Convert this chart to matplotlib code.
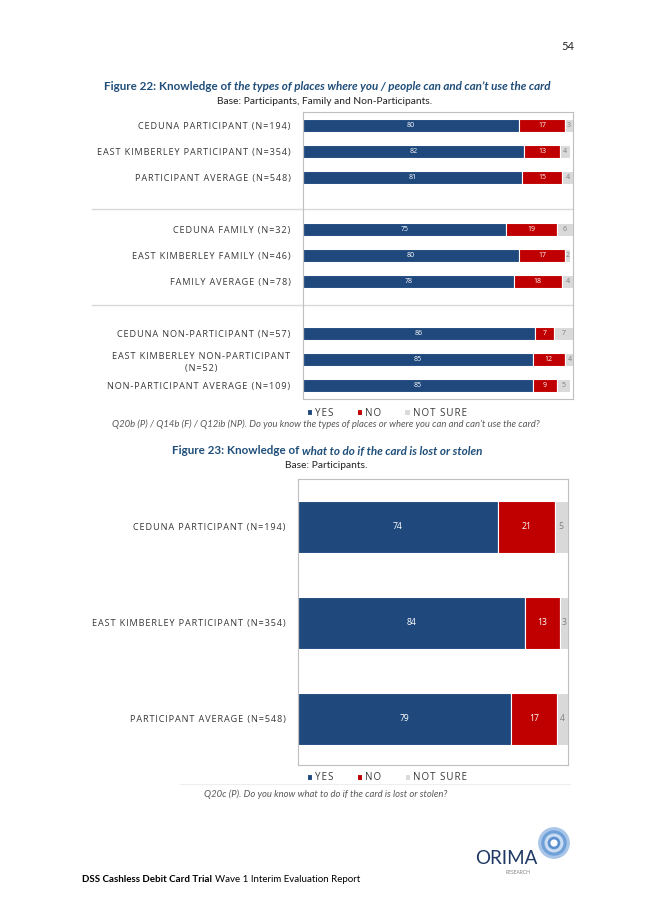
import matplotlib
matplotlib.use("Agg")
import matplotlib.pyplot as plt
from matplotlib.patches import Circle
import matplotlib.transforms as mtransforms

# ---- data: figure 22 ----
labels_22 = ["CEDUNA PARTICIPANT (N=194)",
             "EAST KIMBERLEY PARTICIPANT (N=354)",
             "PARTICIPANT AVERAGE (N=548)",
             "CEDUNA FAMILY (N=32)",
             "EAST KIMBERLEY FAMILY (N=46)",
             "FAMILY AVERAGE (N=78)",
             "CEDUNA NON-PARTICIPANT (N=57)",
             "EAST KIMBERLEY NON-PARTICIPANT\n(N=52)",
             "NON-PARTICIPANT AVERAGE (N=109)"]
yes_22 = [80, 82, 81, 75, 80, 78, 86, 85, 85]
no_22 = [17, 13, 15, 19, 17, 18, 7, 12, 9]
unsure_22 = [3, 4, 4, 6, 2, 4, 7, 4, 5]
rows_22 = [0, 1, 2, 4, 5, 6, 8, 9, 10]

# ---- data: figure 23 ----
labels_23 = ["CEDUNA PARTICIPANT (N=194)",
             "EAST KIMBERLEY PARTICIPANT (N=354)",
             "PARTICIPANT AVERAGE (N=548)"]
yes_23 = [74, 84, 79]
no_23 = [21, 13, 17]
unsure_23 = [5, 3, 4]
rows_23 = [0, 1, 2]

series_names = ["YES", "NO", "NOT SURE"]

# colours
BLUE = "#1f497d"
RED = "#c00000"
GREY = "#d9d9d9"
TITLE_BLUE = "#1f4e79"
LABEL_COL = "#383838"
LABEL_FONT = ["Open Sans", "DejaVu Sans"]

W, H = 653, 923
fig = plt.figure(figsize=(W / 100, H / 100), dpi=100)
fig.patch.set_facecolor("white")


def fx(px):
    return px / W


def fy(py):
    return 1 - py / H


def spaced(s):
    # fake letter spacing with hair spaces
    return "\n".join("\u200a".join(line) for line in s.split("\n"))


def stacked(ax, rows, labels, yes, no, unsure, height, numsize):
    b1 = ax.barh(rows, yes, height=height, color=BLUE, edgecolor="white", linewidth=0.8)
    b2 = ax.barh(rows, no, left=yes, height=height, color=RED, edgecolor="white", linewidth=0.8)
    left3 = [a + b for a, b in zip(yes, no)]
    b3 = ax.barh(rows, unsure, left=left3, height=height, color=GREY, edgecolor="white", linewidth=0.8)
    for y, a, b, c in zip(rows, yes, no, unsure):
        ax.text(a / 2, y, str(a), ha="center", va="center", color="white",
                fontsize=numsize, family="Open Sans")
        ax.text(a + b / 2, y, str(b), ha="center", va="center", color="white",
                fontsize=numsize, family="Open Sans")
        ax.text(a + b + c / 2, y, str(c), ha="center", va="center", color="#808080",
                fontsize=numsize, family="Open Sans")
    ax.set_xlim(0, 100)
    ax.set_yticks(rows)
    ax.set_yticklabels([spaced(l) for l in labels], fontsize=6.6, color=LABEL_COL,
                       family=LABEL_FONT, multialignment="center", linespacing=1.5)
    ax.tick_params(axis="y", length=0, pad=9)
    ax.set_xticks([])
    for s in ax.spines.values():
        s.set_color("#bfbfbf")
        s.set_linewidth(0.8)
    return [b1, b2, b3]


def legend_below(ax, handles, x0, y0):
    ax.legend(handles, [spaced(n) for n in series_names], loc="upper left",
              bbox_to_anchor=(x0, y0), ncol=3, frameon=False, borderpad=0.15,
              handlelength=0.55, handleheight=0.55, handletextpad=0.3,
              columnspacing=2.4, prop={"family": LABEL_FONT, "size": 7},
              labelcolor=LABEL_COL)


# ---- figure 22 ----
ax1 = fig.add_axes([fx(303), fy(399), fx(573) - fx(303), fy(112) - fy(399)])
h1 = stacked(ax1, rows_22, labels_22, yes_22, no_22, unsure_22, 0.5, 5.0)
ax1.set_ylim(10.5, -0.5)
trans = mtransforms.blended_transform_factory(ax1.transAxes, ax1.transData)
for sy in [3.2, 6.9]:
    ax1.plot([-0.78, 1.0], [sy, sy], transform=trans, color="#d9d9d9", lw=1.0, clip_on=False)
legend_below(ax1, h1, -0.01, -0.008)

# ---- figure 23 ----
ax2 = fig.add_axes([fx(298), fy(765), fx(568) - fx(298), fy(479) - fy(765)])
h2 = stacked(ax2, rows_23, labels_23, yes_23, no_23, unsure_23, 0.54, 6.2)
ax2.set_ylim(2.48, -0.5)
legend_below(ax2, h2, 0.01, -0.004)
fig.add_artist(plt.Line2D([fx(180), fx(570)], [fy(784), fy(784)], color="#eeeeee", lw=0.8))

renderer = fig.canvas.get_renderer()


def mixed_title(parts, cx, cy, size):
    texts = []
    widths = []
    for s, style in parts:
        t = fig.text(0, fy(cy), s, fontsize=size, fontweight="bold", fontstyle=style,
                     color=TITLE_BLUE, va="center", ha="left", family="Lato")
        texts.append(t)
        widths.append(t.get_window_extent(renderer).width)
    x = cx - sum(widths) / 2
    for t, w in zip(texts, widths):
        t.set_x(fx(x))
        x += w


mixed_title([("Figure 22: Knowledge of ", "normal"),
             ("the types of places where you / people can and can\u2019t use the card", "italic")],
            327, 86, 8.4)
fig.text(fx(325), fy(102), "Base: Participants, Family and Non-Participants.", ha="center",
         va="center", fontsize=7.4, family="Lato", color="#222222")
fig.text(fx(326), fy(424),
         "Q20b (P) / Q14b (F) / Q12ib (NP). Do you know the types of places or where you can and can\u2019t use the card?",
         ha="center", va="center", fontsize=6.8, family="Lato", style="italic", color="#595959")

mixed_title([("Figure 23: Knowledge of ", "normal"),
             ("what to do if the card is lost or stolen", "italic")],
            327, 451, 8.4)
fig.text(fx(326), fy(465), "Base: Participants.", ha="center", va="center", fontsize=7.4,
         family="Lato", color="#222222")
fig.text(fx(326), fy(794), "Q20c (P). Do you know what to do if the card is lost or stolen?",
         ha="center", va="center", fontsize=6.8, family="Lato", style="italic", color="#595959")

# page number
fig.text(fx(568), fy(46), "54", ha="center", va="center", fontsize=8, family="Lato", color="#222222")

# footer
t = fig.text(fx(82), fy(879), "DSS Cashless Debit Card Trial", ha="left", va="center",
             fontsize=7.0, family="Lato", fontweight="bold", color="black")
wb = t.get_window_extent(renderer).width
fig.text(fx(82 + wb + 3), fy(879), "Wave 1 Interim Evaluation Report", ha="left", va="center",
         fontsize=7.0, family="Lato", color="black")

# logo
fig.text(fx(506), fy(858), "ORIMA", ha="center", va="center", fontsize=13.5, family="Lato",
         color="#1f3864")
fig.text(fx(518), fy(872), "RESEARCH", ha="center", va="center", fontsize=3.5, family="Lato",
         color="#7f7f7f")
lax = fig.add_axes([fx(538), fy(860), fx(570) - fx(538), fy(826) - fy(860)])
lax.set_xlim(-1, 1)
lax.set_ylim(-1, 1)
lax.set_aspect("equal")
lax.axis("off")
for r, c in [(0.95, "#a9c6e8"), (0.75, "#6fa0d8"), (0.55, "#c9dcf2"), (0.35, "#5b8fcf"), (0.18, "white")]:
    lax.add_patch(Circle((0, 0), r, color=c))

fig.savefig("out.png", dpi=100, facecolor="white")
